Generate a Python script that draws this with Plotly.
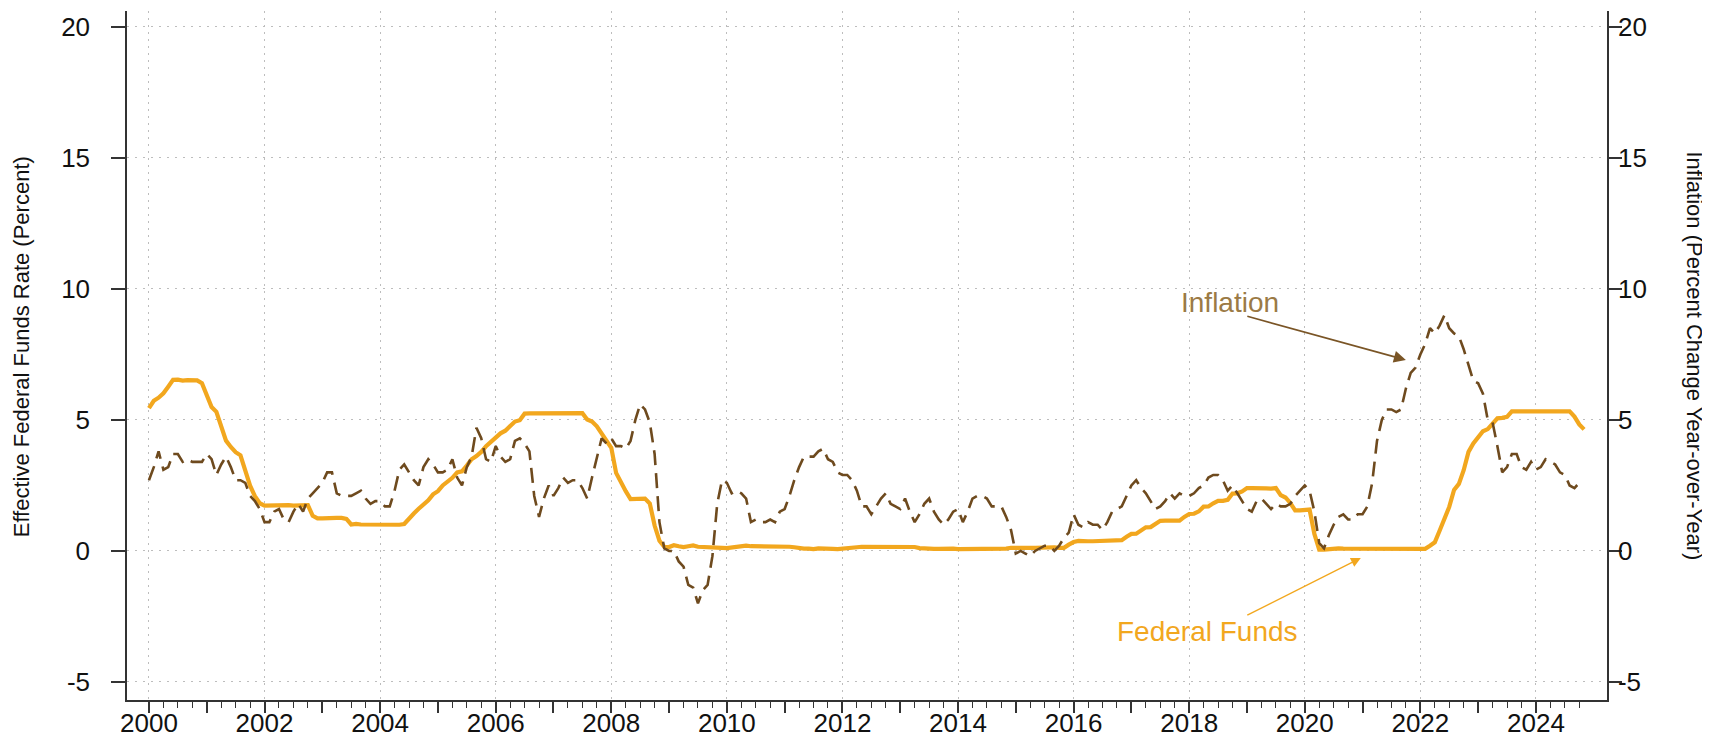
import plotly.graph_objects as go

# ---------------- data ----------------
start_year = 2000
fed_funds = [
    5.45, 5.73, 5.85, 6.02, 6.27, 6.53, 6.54, 6.50, 6.52, 6.51, 6.51, 6.40,
    5.98, 5.49, 5.31, 4.80, 4.21, 3.97, 3.77, 3.65, 3.07, 2.49, 2.09, 1.82,
    1.73, 1.74, 1.73, 1.75, 1.75, 1.75, 1.73, 1.74, 1.75, 1.75, 1.34, 1.24,
    1.24, 1.26, 1.25, 1.26, 1.26, 1.22, 1.01, 1.03, 1.01, 1.01, 1.00, 0.98,
    1.00, 1.01, 1.00, 1.00, 1.00, 1.03, 1.26, 1.43, 1.61, 1.76, 1.93, 2.16,
    2.28, 2.50, 2.63, 2.79, 3.00, 3.04, 3.26, 3.50, 3.62, 3.78, 4.00, 4.16,
    4.29, 4.49, 4.59, 4.79, 4.94, 4.99, 5.24, 5.25, 5.25, 5.25, 5.25, 5.24,
    5.25, 5.26, 5.26, 5.25, 5.25, 5.25, 5.26, 5.02, 4.94, 4.76, 4.49, 4.24,
    3.94, 2.98, 2.61, 2.28, 1.98, 2.00, 2.01, 2.00, 1.81, 0.97, 0.39, 0.16,
    0.15, 0.22, 0.18, 0.15, 0.18, 0.21, 0.16, 0.16, 0.15, 0.12, 0.12, 0.12,
    0.11, 0.13, 0.16, 0.20, 0.20, 0.18, 0.18, 0.19, 0.19, 0.19, 0.19, 0.18,
    0.17, 0.16, 0.14, 0.10, 0.09, 0.09, 0.07, 0.10, 0.08, 0.07, 0.08, 0.07,
    0.08, 0.10, 0.13, 0.14, 0.16, 0.16, 0.16, 0.13, 0.14, 0.16, 0.16, 0.16,
    0.14, 0.15, 0.14, 0.15, 0.11, 0.09, 0.09, 0.08, 0.08, 0.09, 0.08, 0.09,
    0.07, 0.07, 0.08, 0.09, 0.09, 0.10, 0.09, 0.09, 0.09, 0.09, 0.09, 0.12,
    0.11, 0.11, 0.11, 0.12, 0.12, 0.13, 0.13, 0.14, 0.14, 0.12, 0.12, 0.24,
    0.34, 0.38, 0.36, 0.37, 0.37, 0.38, 0.39, 0.40, 0.40, 0.40, 0.41, 0.54,
    0.65, 0.66, 0.79, 0.90, 0.91, 1.04, 1.15, 1.16, 1.15, 1.15, 1.16, 1.30,
    1.41, 1.42, 1.51, 1.69, 1.70, 1.82, 1.91, 1.91, 1.95, 2.19, 2.20, 2.27,
    2.40, 2.40, 2.41, 2.42, 2.39, 2.38, 2.40, 2.13, 2.04, 1.83, 1.55, 1.55,
    1.55, 1.58, 0.65, 0.05, 0.05, 0.08, 0.09, 0.10, 0.09, 0.09, 0.09, 0.09,
    0.09, 0.08, 0.07, 0.07, 0.06, 0.08, 0.10, 0.09, 0.08, 0.08, 0.08, 0.08,
    0.08, 0.08, 0.20, 0.33, 0.77, 1.21, 1.68, 2.33, 2.56, 3.08, 3.78, 4.10,
    4.33, 4.57, 4.65, 4.83, 5.06, 5.08, 5.12, 5.33, 5.33, 5.33, 5.33, 5.33,
    5.33, 5.33, 5.33, 5.33, 5.33, 5.33, 5.33, 5.33, 5.13, 4.83, 4.64,
]
inflation = [
    2.7, 3.2, 3.8, 3.1, 3.2, 3.7, 3.7, 3.4, 3.5, 3.4, 3.4, 3.4,
    3.7, 3.5, 2.9, 3.3, 3.6, 3.2, 2.7, 2.7, 2.6, 2.1, 1.9, 1.6,
    1.1, 1.1, 1.5, 1.6, 1.2, 1.1, 1.5, 1.8, 1.5, 2.0, 2.2, 2.4,
    2.6, 3.0, 3.0, 2.2, 2.1, 2.1, 2.1, 2.2, 2.3, 2.0, 1.8, 1.9,
    1.9, 1.7, 1.7, 2.3, 3.1, 3.3, 3.0, 2.7, 2.5, 3.2, 3.5, 3.3,
    3.0, 3.0, 3.1, 3.5, 2.8, 2.5, 3.2, 3.6, 4.7, 4.3, 3.5, 3.4,
    4.0, 3.6, 3.4, 3.5, 4.2, 4.3, 4.1, 3.8, 2.1, 1.3, 2.0, 2.5,
    2.1, 2.4, 2.8, 2.6, 2.7, 2.7, 2.4, 2.0, 2.8, 3.5, 4.3, 4.1,
    4.3, 4.0, 4.0, 3.9, 4.2, 5.0, 5.6, 5.4, 4.9, 3.7, 1.1, 0.1,
    0.0, 0.0, -0.4, -0.6, -1.3, -1.4, -2.0, -1.5, -1.3, -0.2, 1.8, 2.7,
    2.6, 2.2, 2.3, 2.2, 2.0, 1.1, 1.2, 1.1, 1.1, 1.2, 1.1, 1.5,
    1.6, 2.1, 2.7, 3.2, 3.6, 3.6, 3.6, 3.8, 3.9, 3.5, 3.4, 3.0,
    2.9, 2.9, 2.7, 2.3, 1.7, 1.7, 1.4, 1.7, 2.0, 2.2, 1.8, 1.7,
    1.6, 2.0, 1.5, 1.1, 1.4, 1.8, 2.0, 1.5, 1.2, 1.0, 1.2, 1.5,
    1.6, 1.1, 1.5, 2.0, 2.1, 2.1, 2.0, 1.7, 1.7, 1.7, 1.3, 0.8,
    -0.1, 0.0, -0.1, -0.2, 0.0, 0.1, 0.2, 0.2, 0.0, 0.2, 0.5, 0.7,
    1.4, 1.0, 0.9, 1.1, 1.0, 1.0, 0.8, 1.1, 1.5, 1.6, 1.7, 2.1,
    2.5, 2.7, 2.4, 2.2, 1.9, 1.6, 1.7, 1.9, 2.2, 2.0, 2.2, 2.1,
    2.1, 2.2, 2.4, 2.5, 2.8, 2.9, 2.9, 2.7, 2.3, 2.5, 2.2, 1.9,
    1.6, 1.5, 1.9, 2.0, 1.8, 1.6, 1.8, 1.7, 1.7, 1.8, 2.1, 2.3,
    2.5, 2.3, 1.5, 0.3, 0.1, 0.6, 1.0, 1.3, 1.4, 1.2, 1.2, 1.4,
    1.4, 1.7, 2.6, 4.2, 5.0, 5.4, 5.4, 5.3, 5.4, 6.2, 6.8, 7.0,
    7.5, 7.9, 8.5, 8.3, 8.6, 9.0, 8.5, 8.3, 8.2, 7.7, 7.1, 6.5,
    6.4, 6.0, 5.0, 4.9, 4.0, 3.0, 3.2, 3.7, 3.7, 3.2, 3.1, 3.4,
    3.1, 3.2, 3.5, 3.4, 3.3, 3.0, 2.9, 2.5, 2.4, 2.6,
]
year_ticks = list(range(2000, 2025))
label_years = list(range(2000, 2025, 2))
label_text = [str(y) for y in label_years]
y_ticks = [-5, 0, 5, 10, 15, 20]
y_labels = ["-5", "0", "5", "10", "15", "20"]

# decimal-year dates for the monthly series
ff_x = [start_year + i / 12 for i in range(len(fed_funds))]
inf_x = [start_year + i / 12 for i in range(len(inflation))]
quarter_ticks = [2000 + q / 4 for q in range(0, 100) if q % 4 != 0]

ORANGE = "#F2A71E"
BROWN = "#6E4A1E"
BROWN_TXT = "#9B7A45"
AXC = "#333333"
GRIDC = "#BDBDBD"
XR = [1999.62, 2025.23]
YR = [-5.69, 20.61]
TICKFONT = dict(family="Liberation Sans, Arial, sans-serif", size=26, color="#111111")
TITLEFONT = dict(family="Liberation Sans, Arial, sans-serif", size=22, color="#111111")

fig = go.Figure()
fig.add_trace(go.Scatter(x=ff_x, y=fed_funds, mode="lines", name="Federal Funds",
                         line=dict(color=ORANGE, width=4.2), xaxis="x", yaxis="y"))
fig.add_trace(go.Scatter(x=inf_x, y=inflation, mode="lines", name="Inflation",
                         line=dict(color=BROWN, width=2.6, dash="15px,8px"),
                         xaxis="x2", yaxis="y2"))

fig.update_layout(
    width=1710, height=736,
    margin=dict(l=119, r=111, t=3, b=44),
    paper_bgcolor="white", plot_bgcolor="white",
    showlegend=False,
    # main x axis: axis line, yearly ticks and quarterly minor ticks
    xaxis=dict(range=XR, tickmode="array", tickvals=year_ticks, showticklabels=False,
               ticks="outside", ticklen=11, tickwidth=1.5, tickcolor=AXC,
               showline=True, linecolor=AXC, linewidth=1.5, showgrid=False, zeroline=False,
               minor=dict(tickmode="array", tickvals=quarter_ticks, ticks="outside",
                          ticklen=6, tickwidth=1.2, tickcolor=AXC, showgrid=False)),
    # overlay x axis: biennial labels and grid
    xaxis2=dict(range=XR, overlaying="x", side="bottom", anchor="y", tickmode="array",
                tickvals=label_years, ticktext=label_text, showticklabels=True,
                tickfont=TICKFONT, ticks="", ticklabelstandoff=5,
                showline=False, zeroline=False,
                showgrid=True, gridcolor=GRIDC, gridwidth=1.3, griddash="2px,5px"),
    yaxis=dict(range=YR, tickmode="array", tickvals=y_ticks, ticktext=y_labels,
               ticks="outside", ticklen=14,
               tickwidth=1.5, tickcolor=AXC, showline=True, linecolor=AXC, linewidth=1.5,
               showgrid=True, gridcolor=GRIDC, gridwidth=1.3, griddash="2px,6px",
               zeroline=False, tickfont=TICKFONT, ticklabelstandoff=16),
    yaxis2=dict(range=YR, overlaying="y", side="right", anchor="x2", tickmode="array",
                tickvals=y_ticks, ticktext=y_labels, ticks="outside", ticklen=13,
                tickwidth=1.5, tickcolor=AXC,
                showline=True, linecolor=AXC, linewidth=1.5, showgrid=False, zeroline=False,
                tickfont=TICKFONT, ticklabelstandoff=-9),
)

annotations = [
    dict(text="Effective Federal Funds Rate (Percent)", xref="paper", yref="paper",
         x=-0.0716, y=0.512, xanchor="center", yanchor="middle", textangle=-90,
         showarrow=False, font=TITLEFONT),
    dict(text="Inflation (Percent Change Year-over-Year)", xref="paper", yref="paper",
         x=1.0588, y=0.5, xanchor="center", yanchor="middle", textangle=90,
         showarrow=False, font=TITLEFONT),
    dict(text="Inflation", xref="x", yref="y", x=2018.70, y=9.47, showarrow=False,
         xanchor="center", yanchor="middle",
         font=dict(family="Liberation Sans, Arial, sans-serif", size=28, color=BROWN_TXT)),
    dict(text="", xref="x", yref="y", x=2021.75, y=7.29, axref="x", ayref="y",
         ax=2018.98, ay=8.97, showarrow=True, arrowhead=2, arrowsize=1.5,
         arrowwidth=1.6, arrowcolor="#7A5526"),
    dict(text="Federal Funds", xref="x", yref="y", x=2018.32, y=-3.09, showarrow=False,
         xanchor="center", yanchor="middle",
         font=dict(family="Liberation Sans, Arial, sans-serif", size=28, color=ORANGE)),
    dict(text="", xref="x", yref="y", x=2020.97, y=-0.27, axref="x", ayref="y",
         ax=2018.98, ay=-2.48, showarrow=True, arrowhead=2, arrowsize=1.4,
         arrowwidth=1.4, arrowcolor=ORANGE),
]
fig.update_layout(annotations=annotations)

fig.write_html("out.html")
